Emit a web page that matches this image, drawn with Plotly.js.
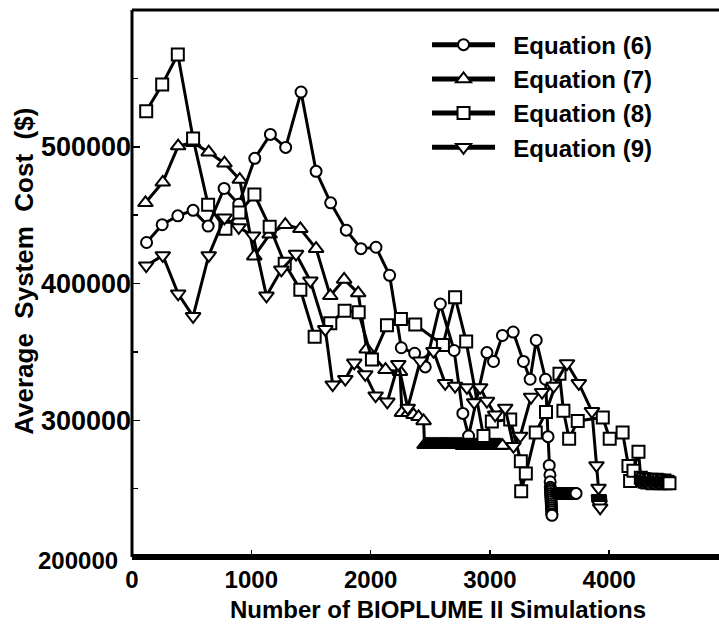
<!DOCTYPE html>
<html>
<head>
<meta charset="utf-8">
<script src="https://cdn.plot.ly/plotly-3.0.1.min.js"></script>
<style>html,body{margin:0;padding:0;background:#fff;}#chart{width:719px;height:627px;}</style>
</head>
<body>
<div id="chart"></div>
<script>
// Equation (6) - circles
var eq6X = [122, 253, 384, 512, 638, 772, 895, 1029, 1160, 1288, 1417, 1543, 1665, 1796, 1919, 2045, 2159, 2257, 2369, 2458, 2584, 2700, 2773, 2821, 2975, 3030, 3105, 3195, 3281, 3337, 3388, 3466, 3487, 3497,
  3503, 3505, 3506, 3507, 3508, 3509, 3510, 3511, 3512, 3513, 3514, 3515, 3516, 3517, 3518, 3519, 3520,
  3560, 3568, 3577, 3585, 3593, 3601, 3610, 3618, 3626, 3634, 3643, 3651, 3659, 3667, 3676, 3684, 3692, 3700, 3709, 3716, 3722];
var eq6Y = [430000, 443000, 449500, 453500, 442000, 469500, 458000, 491500, 509000, 499500, 540000, 482000, 459000, 439000, 425500, 426500, 406000, 353000, 349000, 339000, 385000, 351000, 305000, 288500, 349500, 343000, 362000, 364500, 343000, 330000, 358500, 330000, 288000, 267000,
  260000, 255000, 251000, 249500, 248000, 246500, 245000, 243500, 242000, 240500, 239000, 237500, 236000, 234500, 233000, 231500, 230500,
  246500, 246500, 246500, 246500, 246500, 246500, 246500, 246500, 246500, 246500, 246500, 246500, 246500, 246500, 246500, 246500, 246500, 246500, 246500, 246500, 246500];

// Equation (7) - up triangles
var eq7X = [113, 258, 387, 512, 643, 775, 903, 1025, 1154, 1285, 1411, 1543, 1662, 1778, 1896, 1967, 2125, 2246, 2263, 2318, 2360, 2402, 2444,
  2452, 2459, 2467, 2475, 2484, 2491, 2499, 2507, 2516, 2523, 2531, 2539, 2548, 2555, 2563, 2571, 2580, 2587, 2595, 2603,
  2612, 2619, 2627, 2635, 2644, 2651, 2659, 2667, 2676, 2683, 2691, 2699, 2708, 2715, 2723, 2731, 2740, 2747, 2755, 2763,
  2772, 2779, 2787, 2795, 2804, 2811, 2819, 2827, 2836, 2843, 2851, 2859, 2868, 2875, 2883, 2891, 2900, 2907, 2915, 2923,
  2932, 2939, 2947, 2955, 2964, 2971, 2979, 2987, 2996, 3003, 3011, 3019, 3028, 3035, 3043, 3051, 3060, 3067, 3075, 3083,
  3092, 3105];
var eq7Y = [459000, 474000, 500500, 503000, 496000, 488000, 476000, 420000, 436000, 443000, 440000, 425500, 391000, 403000, 393000, 352000, 337000, 335500, 305500, 305500, 304000, 302500, 299500,
  282000, 282000, 282000, 282000, 282000, 282000, 282000, 282000, 282000, 282000, 282000, 282000, 282000, 282000, 282000, 282000, 282000, 282000, 282000, 282000,
  282000, 282000, 282000, 282000, 282000, 282000, 282000, 282000, 282000, 282000, 282000, 282000, 282000, 282000, 282000, 282000, 282000, 282000, 282000, 282000,
  281500, 281500, 281500, 281500, 281500, 281500, 281500, 281500, 281500, 281500, 281500, 281500, 281500, 281500, 281500, 281500, 281500, 281500, 281500, 281500,
  281500, 281500, 281500, 281500, 281500, 281500, 281500, 281500, 281500, 281500, 281500, 281500, 281500, 281500, 281500, 281500, 281500, 281500, 281500, 281500,
  281500, 281500];

// Equation (8) - squares
var eq8X = [119, 253, 384, 512, 638, 783, 900, 1026, 1154, 1280, 1411, 1531, 1662, 1782, 1900, 2011, 2137, 2254, 2374, 2606, 2708, 2801, 2946, 3016, 3170, 3259, 3262, 3301, 3384, 3470, 3583, 3616, 3664, 3736, 3946, 4004, 4112, 4161, 4175, 4203, 4245,
  4265, 4276, 4287, 4298, 4309, 4320, 4331, 4342, 4353, 4364, 4375, 4386, 4397, 4408, 4419, 4430, 4441, 4452, 4463, 4474, 4485, 4494, 4505];
var eq8Y = [526000, 545500, 567500, 506000, 457500, 440000, 452000, 465000, 441500, 414500, 395500, 361000, 371000, 380000, 379000, 344500, 369500, 374000, 370000, 355000, 390000, 357500, 288500, 299000, 300500, 270000, 248000, 261000, 291000, 306000, 334000, 307000, 286500, 299500, 302000, 286500, 291000, 266500, 255500, 263000, 277000,
  258000, 256000, 257000, 255000, 256500, 254500, 256000, 255000, 256500, 254000, 256000, 255000, 256500, 254500, 256000, 254000, 255500, 254500, 256000, 254000, 255000, 254500, 254000];

// Equation (9) - down triangles
var eq9X = [119, 258, 387, 512, 643, 775, 895, 1015, 1127, 1252, 1375, 1495, 1620, 1682, 1788, 1863, 1955, 2042, 2140, 2232, 2311, 2416, 2527, 2625, 2708, 2807, 2868, 2918, 2975, 3044, 3128, 3197, 3254, 3345, 3437, 3534, 3646, 3745, 3855, 3893, 3910,
  3913, 3914, 3915, 3916, 3917, 3918, 3924];
var eq9Y = [413000, 420500, 392500, 376000, 420500, 448000, 441000, 435000, 391000, 410000, 421500, 402000, 366500, 326000, 330000, 342000, 333500, 318000, 313500, 341000, 309000, 343500, 350500, 327000, 325000, 324000, 313000, 324000, 314000, 304000, 309000, 281000, 288500, 317000, 320500, 325000, 341500, 327000, 306500, 267000, 250500,
  243000, 242000, 241000, 240000, 239000, 238500, 236000];

var seriesNames = ['Equation (6)', 'Equation (7)', 'Equation (8)', 'Equation (9)'];
var xTickVals = [0, 1000, 2000, 3000, 4000];
var yTickVals = [300000, 400000, 500000];
var yBottomLabel = '200000';

var FONT = 'Liberation Sans, Arial, Helvetica, sans-serif';
var LEGEND_PAD = '\u00a0\u00a0';
var symbols = ['circle', 'triangle-up', 'square', 'triangle-down'];
var sizes = [11, 13, 12, 13];
var xs = [eq6X, eq7X, eq8X, eq9X];
var ys = [eq6Y, eq7Y, eq8Y, eq9Y];

var data = [];
// data traces (markers: white fill, black outline)
for (var i = 0; i < 4; i++) {
  data.push({
    x: xs[i], y: ys[i], name: seriesNames[i], legendgroup: 'g' + i, showlegend: false,
    type: 'scatter', mode: 'lines+markers',
    line: {color: '#000', width: 3},
    marker: {symbol: symbols[i], size: sizes[i], color: '#fff', line: {color: '#000', width: 2}}
  });
}
// legend entries (thicker sample line, as in the original key)
for (var j = 0; j < 4; j++) {
  data.push({
    x: [null], y: [null], name: LEGEND_PAD + seriesNames[j], legendgroup: 'g' + j, showlegend: true,
    type: 'scatter', mode: 'lines+markers', hoverinfo: 'skip',
    line: {color: '#000', width: 5},
    marker: {symbol: symbols[j], size: sizes[j], color: '#fff', line: {color: '#000', width: 2}}
  });
}

var layout = {
  width: 719, height: 627,
  margin: {l: 132, r: 0, t: 10, b: 70, pad: 0},
  paper_bgcolor: '#fff', plot_bgcolor: '#fff',
  showlegend: true,
  legend: {x: 0.5026, y: 0.977, xanchor: 'left', yanchor: 'top', bgcolor: 'rgba(0,0,0,0)', traceorder: 'normal',
           font: {family: FONT, size: 24, color: '#000', weight: 'bold'}, itemwidth: 63, tracegroupgap: 0},
  xaxis: {
    range: [0, 4920], tickvals: xTickVals, ticks: 'inside', ticklen: 7, tickwidth: 1.5, tickcolor: '#000',
    showline: false, showgrid: false, zeroline: false, ticklabelstandoff: 6,
    tickfont: {family: FONT, size: 24, color: '#000', weight: 'bold'}
  },
  yaxis: {
    range: [200000, 600000], tickvals: yTickVals, tickformat: 'd', ticks: 'inside', ticklen: 8, tickwidth: 1.5, tickcolor: '#000',
    minor: {tickvals: [250000, 350000, 450000, 550000], ticks: 'inside', ticklen: 6, tickwidth: 1.5, tickcolor: '#000'},
    showline: false, showgrid: false, zeroline: false,
    tickfont: {family: FONT, size: 27, color: '#000', weight: 'bold'}
  },
  shapes: [
    {type: 'line', xref: 'paper', yref: 'paper', x0: 0, x1: 0, y0: 0, y1: 1, line: {color: '#000', width: 3}},
    {type: 'line', xref: 'paper', yref: 'paper', x0: 0, x1: 1, y0: 0, y1: 0, line: {color: '#000', width: 6}},
    {type: 'line', xref: 'paper', yref: 'paper', x0: 0, x1: 1, y0: 1, y1: 1, line: {color: '#000', width: 3}}
  ],
  annotations: [
    {text: yBottomLabel, xref: 'paper', yref: 'y', x: 0, y: 200000, xanchor: 'right', yanchor: 'middle', xshift: -12, yshift: -3,
     showarrow: false, font: {family: FONT, size: 24, color: '#000', weight: 'bold'}},
    {text: 'Number of BIOPLUME II Simulations', xref: 'paper', yref: 'paper', x: 0.521, y: 0, xanchor: 'center', yanchor: 'middle', yshift: -52,
     showarrow: false, font: {family: FONT, size: 24, color: '#000', weight: 'bold'}},
    {text: 'Average\u00a0 System\u00a0 Cost\u00a0 ($)', xref: 'paper', yref: 'paper', x: 0, y: 0.5215, xanchor: 'center', yanchor: 'middle', xshift: -108, textangle: -90,
     showarrow: false, font: {family: FONT, size: 26, color: '#000', weight: 'bold'}}
  ]
};
Plotly.newPlot('chart', data, layout, {displayModeBar: false, staticPlot: true});
</script>
</body>
</html>
